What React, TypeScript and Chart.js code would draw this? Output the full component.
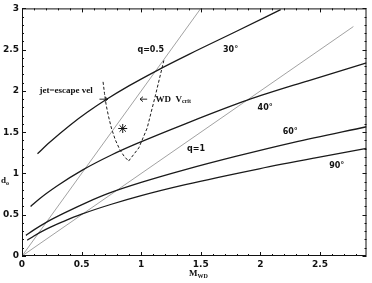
import React, { useEffect, useRef } from "react";
import { Chart, registerables } from "chart.js";

Chart.register(...registerables);

// ---- data ----
const xTickValues = [0, 0.5, 1, 1.5, 2, 2.5];
const yTickValues = [0, 0.5, 1, 1.5, 2, 2.5, 3];
const xMin = 0;
const xMax = 2.89;
const yMin = 0;
const yMax = 3;

const curve30: [number, number][] = [
  [0.13, 1.24], [0.23, 1.375], [0.4, 1.582], [0.55, 1.744], [0.7, 1.89],
  [0.9, 2.064], [1.136, 2.25], [1.4, 2.443], [1.8, 2.723], [2.17, 2.985],
];
const curve40: [number, number][] = [
  [0.072, 0.6], [0.15, 0.698], [0.3, 0.855], [0.51, 1.044], [0.75, 1.224],
  [0.956, 1.358], [1.37, 1.602], [1.89, 1.888], [2.4, 2.123], [2.89, 2.339],
];
const curve60: [number, number][] = [
  [0.033, 0.25], [0.1, 0.317], [0.2, 0.405], [0.37, 0.531], [0.55, 0.653],
  [0.73, 0.761], [1.0, 0.891], [1.37, 1.046], [1.8, 1.209], [2.28, 1.377],
  [2.89, 1.566],
];
const curve90: [number, number][] = [
  [0.044, 0.19], [0.1, 0.243], [0.2, 0.323], [0.35, 0.42], [0.5, 0.507],
  [0.75, 0.627], [1.0, 0.732], [1.37, 0.865], [1.99, 1.057], [2.45, 1.186],
  [2.89, 1.303],
];
const lineQ05: [number, number][] = [[0, 0], [1.5, 3.0]];
const lineQ1: [number, number][] = [[0, 0], [2.78, 2.78]];
const jetEscape: [number, number][] = [
  [0.68, 2.11], [0.692, 1.97], [0.706, 1.83], [0.726, 1.69], [0.75, 1.55],
  [0.782, 1.41], [0.82, 1.29], [0.856, 1.21], [0.894, 1.15],
];
const wdVcrit: [number, number][] = [
  [0.894, 1.15], [0.98, 1.31], [1.05, 1.55], [1.12, 1.95], [1.19, 2.37],
];
const starPoint: [number, number][] = [[0.845, 1.545]];

// arrows: [xFrom, xTo, y]
const arrows: [number, number, number][] = [
  [0.65, 0.72, 1.9],
  [1.05, 0.99, 1.9],
];

// labels: [text, x, y]
const curveLabels: [string, number, number][] = [
  ["30°", 1.75, 2.5],
  ["40°", 2.04, 1.79],
  ["60°", 2.25, 1.5],
  ["90°", 2.64, 1.09],
  ["q=0.5", 1.08, 2.5],
  ["q=1", 1.46, 1.3],
];
const jetLabel: [string, number, number] = ["jet=escape vel", 0.37, 2.0];
const wdLabel: [string, string, number, number] = ["WD  V", "crit", 1.12, 1.9];

const toPts = (a: [number, number][]) => a.map(([x, y]) => ({ x, y }));

const LAB_FONT = "bold 8px 'DejaVu Sans'";
const SERIF_FONT = "bold 9px 'Liberation Serif'";

const decorPlugin = {
  id: "decor",
  afterDraw(chart: any) {
    const { ctx, chartArea, scales } = chart;
    const { left, right, top, bottom } = chartArea;
    const xs = scales.x;
    const ys = scales.y;
    ctx.save();
    ctx.strokeStyle = "#111";
    ctx.lineWidth = 1;
    ctx.strokeRect(left + 0.5, top + 0.5, right - left - 1, bottom - top - 1);
    // ticks, inward on all four sides
    ctx.beginPath();
    for (let i = 0; i <= Math.round(xMax * 10); i++) {
      const v = i / 10;
      if (v > xMax) break;
      const px = Math.round(xs.getPixelForValue(v)) + 0.5;
      const len = i % 5 === 0 ? 4 : 2;
      ctx.moveTo(px, bottom);
      ctx.lineTo(px, bottom - len);
      ctx.moveTo(px, top);
      ctx.lineTo(px, top + len);
    }
    for (let i = 0; i <= Math.round(yMax * 10); i++) {
      const v = i / 10;
      const py = Math.round(ys.getPixelForValue(v)) + 0.5;
      const len = i % 5 === 0 ? 4 : 2;
      ctx.moveTo(left, py);
      ctx.lineTo(left + len, py);
      ctx.moveTo(right, py);
      ctx.lineTo(right - len, py);
    }
    ctx.stroke();

    // arrows
    ctx.lineWidth = 0.9;
    for (const [x0, x1, y] of arrows) {
      const p0 = xs.getPixelForValue(x0);
      const p1 = xs.getPixelForValue(x1);
      const py = ys.getPixelForValue(y);
      const dir = Math.sign(p1 - p0);
      ctx.beginPath();
      ctx.moveTo(p0, py);
      ctx.lineTo(p1, py);
      ctx.moveTo(p1 - dir * 3, py - 2.5);
      ctx.lineTo(p1, py);
      ctx.lineTo(p1 - dir * 3, py + 2.5);
      ctx.stroke();
    }

    // curve labels
    ctx.fillStyle = "#111";
    ctx.textBaseline = "middle";
    ctx.textAlign = "center";
    ctx.font = LAB_FONT;
    for (const [t, x, y] of curveLabels) {
      ctx.fillText(t, xs.getPixelForValue(x), ys.getPixelForValue(y));
    }
    ctx.font = SERIF_FONT;
    ctx.fillText(jetLabel[0], xs.getPixelForValue(jetLabel[1]), ys.getPixelForValue(jetLabel[2]));
    // WD V_crit
    ctx.textAlign = "left";
    const wx = xs.getPixelForValue(wdLabel[2]);
    const wy = ys.getPixelForValue(wdLabel[3]);
    ctx.fillText(wdLabel[0], wx, wy);
    const w1 = ctx.measureText(wdLabel[0]).width;
    ctx.font = "bold 6px 'Liberation Serif'";
    ctx.fillText(wdLabel[1], wx + w1, wy + 2.5);

    // axis titles
    ctx.font = "bold 9px 'Liberation Serif'";
    ctx.fillText("M", 189, 274);
    const mw = ctx.measureText("M").width;
    ctx.font = "bold 6px 'Liberation Serif'";
    ctx.fillText("WD", 189 + mw, 276.5);
    ctx.font = "bold 9px 'Liberation Serif'";
    ctx.fillText("d", 1, 181);
    const dw = ctx.measureText("d").width;
    ctx.font = "bold 6px 'Liberation Serif'";
    ctx.fillText("o", 1 + dw, 183.5);
    ctx.restore();
  },
};

export default function App() {
  const ref = useRef<HTMLCanvasElement | null>(null);
  useEffect(() => {
    if (!ref.current) return;
    const solid = (d: [number, number][]) => ({
      data: toPts(d),
      borderColor: "#1a1a1a",
      borderWidth: 1.3,
      pointRadius: 0,
      cubicInterpolationMode: "monotone" as const,
      showLine: true,
      fill: false,
    });
    const thin = (d: [number, number][]) => ({
      data: toPts(d),
      borderColor: "#8a8a8a",
      borderWidth: 0.8,
      pointRadius: 0,
      showLine: true,
      fill: false,
    });
    const dashed = (d: [number, number][]) => ({
      data: toPts(d),
      borderColor: "#1a1a1a",
      borderWidth: 1,
      borderDash: [3, 2],
      pointRadius: 0,
      tension: 0,
      showLine: true,
      fill: false,
    });
    const chart = new Chart(ref.current, {
      type: "scatter",
      data: {
        datasets: [
          solid(curve30),
          solid(curve40),
          solid(curve60),
          solid(curve90),
          thin(lineQ05),
          thin(lineQ1),
          dashed(jetEscape),
          dashed(wdVcrit),
          {
            data: toPts(starPoint),
            pointStyle: "star",
            pointRadius: 4.5,
            borderColor: "#111",
            borderWidth: 1,
            showLine: false,
          } as any,
        ],
      },
      options: {
        animation: false,
        responsive: false,
        maintainAspectRatio: false,
        layout: { padding: { top: 6, right: 3, left: 0, bottom: 0 } },
        plugins: { legend: { display: false }, tooltip: { enabled: false } },
        scales: {
          x: {
            type: "linear",
            min: xMin,
            max: xMax,
            grid: { display: false, drawTicks: false },
            border: { display: false },
            ticks: {
              font: { family: "DejaVu Sans", size: 9, weight: "bold" },
              color: "#111",
              padding: 3,
              maxRotation: 0,
              includeBounds: false,
              callback: (v: any) => String(v),
            },
            afterBuildTicks: (s: any) => {
              s.ticks = xTickValues.map((v) => ({ value: v }));
            },
            afterFit: (s: any) => {
              s.height = 27;
            },
          },
          y: {
            type: "linear",
            min: yMin,
            max: yMax,
            grid: { display: false, drawTicks: false },
            border: { display: false },
            ticks: {
              font: { family: "DejaVu Sans", size: 9, weight: "bold" },
              color: "#111",
              padding: 3,
              includeBounds: false,
              callback: (v: any) => String(v),
            },
            afterBuildTicks: (s: any) => {
              s.ticks = yTickValues.map((v) => ({ value: v }));
            },
            afterFit: (s: any) => {
              s.width = 22;
            },
          },
        },
      },
      plugins: [decorPlugin],
    });
    return () => chart.destroy();
  }, []);
  return (
    <div style={{ position: "fixed", left: 0, top: 0, width: 372, height: 283, background: "#fff" }}>
      <canvas ref={ref} width={372} height={283} style={{ width: 372, height: 283 }} />
    </div>
  );
}
